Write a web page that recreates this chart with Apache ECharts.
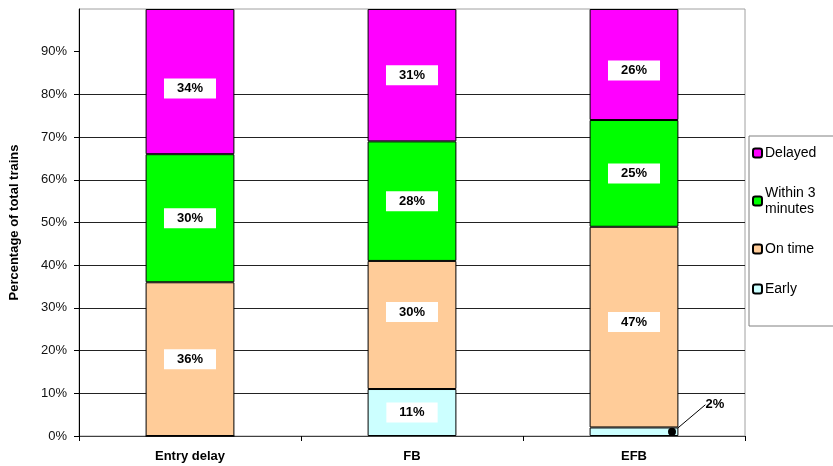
<!DOCTYPE html>
<html>
<head>
<meta charset="utf-8">
<script src="https://cdn.jsdelivr.net/npm/echarts@6/dist/echarts.min.js"></script>
<style>
  html, body { margin: 0; padding: 0; background: #fff; }
  #chart { width: 833px; height: 466px; }
</style>
</head>
<body>
<div id="chart"></div>
<script>
// Train punctuality by signalling mode, in percent of total trains
const categories = ['Entry delay', 'FB', 'EFB'];
const early = [0, 11, 2];
const onTime = [36, 30, 47];
const within3 = [30, 28, 25];
const delayed = [34, 31, 26];
const yTicks = [0, 10, 20, 30, 40, 50, 60, 70, 80, 90];

const FONT = 'Arial, "Liberation Sans", sans-serif';

// Vertical nudges (px) for a few value boxes, per series and category
const labelNudge = {
  'Delayed': [7, 0, 6],
  'On time': [0, -13, -5]
};

const boxLabel = {
  show: true,
  position: 'inside',
  formatter: p => p.value + '%',
  color: '#000',
  fontFamily: FONT,
  fontSize: 13,
  fontWeight: 'bold',
  backgroundColor: '#fff',
  padding: [4, 13, 3, 13]
};

function barSeries(name, values, color, extra) {
  const nudge = labelNudge[name];
  return Object.assign({
    name: name,
    type: 'bar',
    stack: 'total',
    barWidth: '40%',
    itemStyle: { color: color, borderColor: '#000', borderWidth: 1 },
    label: boxLabel,
    labelLayout: nudge ? (p => ({ dy: nudge[p.dataIndex] || 0 })) : undefined,
    emphasis: { disabled: true },
    data: values.map(v => v === 0 ? { value: v, label: { show: false } } : v)
  }, extra || {});
}

// The small "Early" slice of EFB gets its label outside, with a leader line
const earlyData = early.map(v => {
  if (v === 0) return { value: v, label: { show: false } };
  if (v < 5) {
    return {
      value: v,
      label: { position: 'right', backgroundColor: 'transparent', padding: 0 }
    };
  }
  return v;
});

const option = {
  animation: false,
  backgroundColor: '#fff',
  grid: {
    left: 79, right: 88, top: 9, bottom: 30,
    outerBoundsMode: 'none',
    containLabel: false,
    show: true, borderColor: '#a0a0a0', borderWidth: 1
  },
  legend: {
    orient: 'vertical',
    left: 749,
    top: 136,
    data: ['Delayed', 'Within 3\nminutes', 'On time', 'Early'],
    itemWidth: 9,
    itemHeight: 9,
    itemGap: 24,
    padding: [9, 20, 29, 3],
    borderColor: '#808080',
    borderWidth: 1,
    textStyle: { fontFamily: FONT, fontSize: 14, color: '#000', lineHeight: 16, padding: [0, 0, 0, -2] }
  },
  xAxis: {
    type: 'category',
    data: categories,
    axisLine: { lineStyle: { color: '#404040', width: 1 } },
    axisTick: { show: true, length: 5, lineStyle: { color: '#000' } },
    axisLabel: {
      margin: 14,
      color: '#000',
      fontFamily: FONT,
      fontSize: 13,
      fontWeight: 'bold'
    }
  },
  yAxis: {
    type: 'value',
    min: 0,
    max: 100,
    interval: 10,
    name: 'Percentage of total trains',
    nameLocation: 'middle',
    nameGap: 58,
    nameRotate: 90,
    nameTextStyle: { fontFamily: FONT, fontSize: 13, fontWeight: 'bold', color: '#000' },
    axisLine: { show: true, lineStyle: { color: '#000' } },
    axisTick: { show: true, length: 5, customValues: yTicks, lineStyle: { color: '#000' } },
    axisLabel: {
      margin: 12,
      color: '#111',
      fontFamily: FONT,
      fontSize: 13,
      customValues: yTicks,
      formatter: v => v + '%'
    },
    splitLine: { show: true, showMaxLine: false, lineStyle: { color: '#222', width: 1 } }
  },
  series: [
    barSeries('Early', early, '#CCFFFF', {
      data: earlyData,
      labelLine: { show: true, lineStyle: { color: '#000', width: 1 } },
      labelLayout: p => (p.dataIndex === 2 ? { dx: 22, dy: -27 } : {}),
      markPoint: {
        symbol: 'circle',
        symbolSize: 8,
        symbolOffset: [38, 0],
        itemStyle: { color: '#000' },
        label: { show: false },
        data: [{ coord: [2, early[2] / 2] }]
      }
    }),
    barSeries('On time', onTime, '#FFCC99'),
    barSeries('Within 3\nminutes', within3, '#00FF00'),
    barSeries('Delayed', delayed, '#FF00FF')
  ]
};

const chart = echarts.init(document.getElementById('chart'), null, { renderer: 'canvas' });
chart.setOption(option);
</script>
</body>
</html>
